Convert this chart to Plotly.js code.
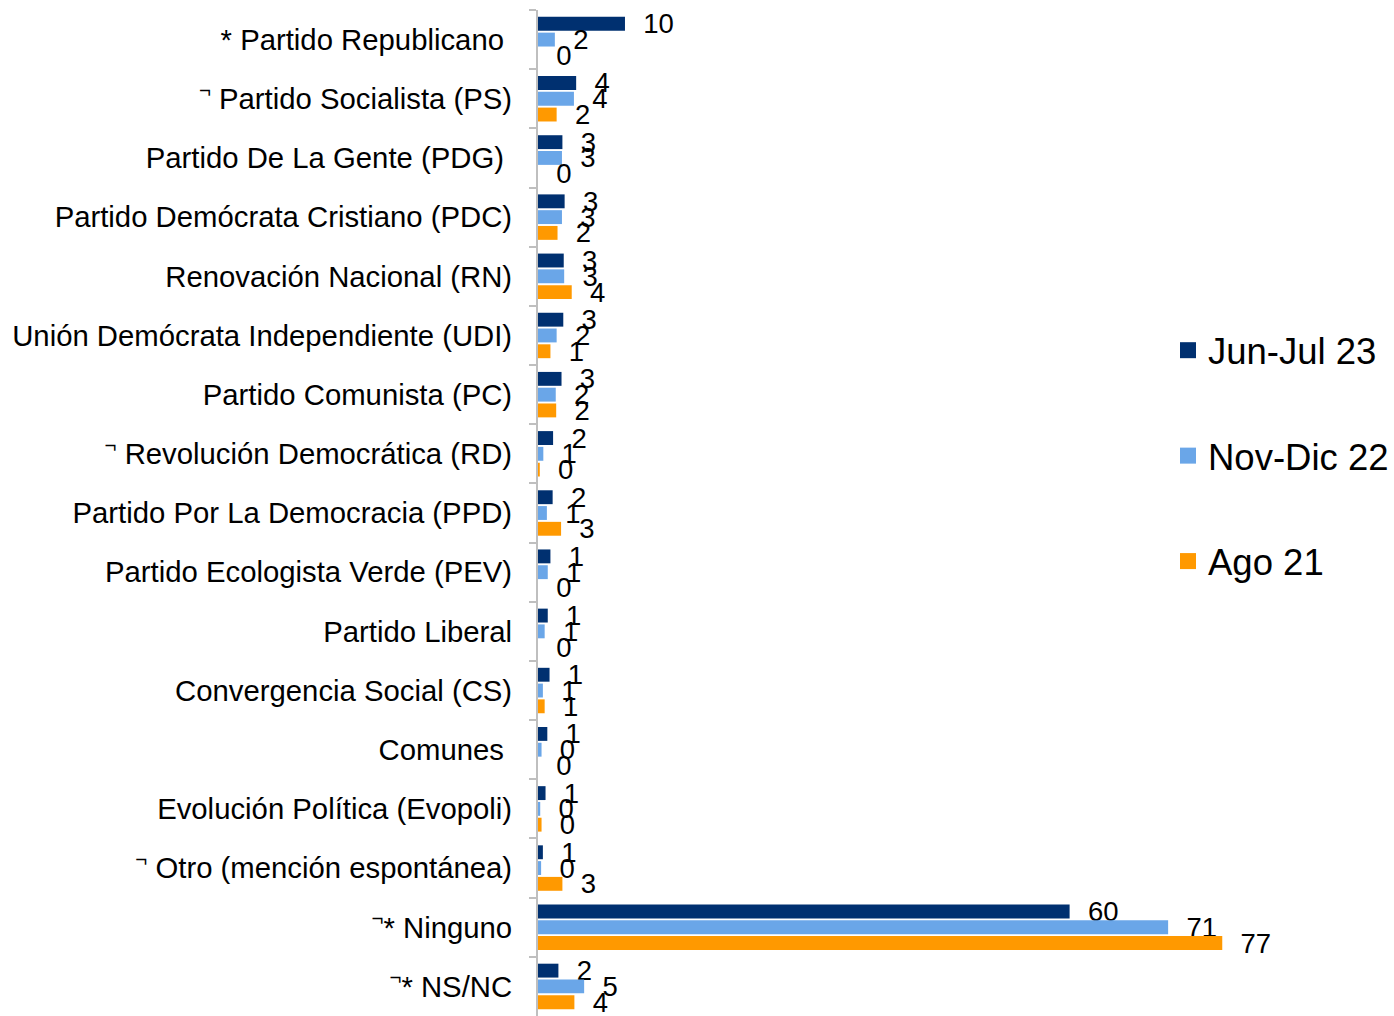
<!DOCTYPE html>
<html>
<head>
<meta charset="utf-8">
<script src="https://cdn.plot.ly/plotly-3.0.1.min.js"></script>
<style>html,body{margin:0;padding:0;background:#fff;}#chart{width:1394px;height:1016px;}</style>
</head>
<body>
<div id="chart"></div>
<script>
const categories = [
  "* Partido Republicano\u00a0",
  "<sup>\u00ac</sup> Partido Socialista (PS)",
  "Partido De La Gente (PDG)\u00a0",
  "Partido Demócrata Cristiano (PDC)",
  "Renovación Nacional (RN)",
  "Unión Demócrata Independiente (UDI)",
  "Partido Comunista (PC)",
  "<sup>\u00ac</sup> Revolución Democrática (RD)",
  "Partido Por La Democracia (PPD)",
  "Partido Ecologista Verde (PEV)",
  "Partido Liberal",
  "Convergencia Social (CS)",
  "Comunes\u00a0",
  "Evolución Política (Evopoli)",
  "<sup>\u00ac</sup> Otro (mención espontánea)",
  "<sup>\u00ac</sup>* Ninguno",
  "<sup>\u00ac</sup>* NS/NC"
];
const seriesNames = ["Jun-Jul 23", "Nov-Dic 22", "Ago 21"];
const junJul23 = [9.8, 4.3, 2.75, 3.0, 2.9, 2.85, 2.65, 1.7, 1.65, 1.4, 1.1, 1.3, 1.05, 0.85, 0.55, 59.9, 2.3];
const novDic22 = [1.9, 4.05, 2.7, 2.7, 2.95, 2.1, 2.0, 0.6, 1.0, 1.1, 0.75, 0.55, 0.4, 0.25, 0.35, 71.0, 5.2];
const ago21    = [0, 2.1, 0, 2.2, 3.8, 1.4, 2.05, 0.2, 2.6, 0, 0, 0.75, 0, 0.4, 2.75, 77.1, 4.1];
const colors = ["#003070", "#6AA6E8", "#FF9900"];

const FONT = "Liberation Sans, Arial, sans-serif";
const seriesVals = [junJul23, novDic22, ago21];
const traces = [];
seriesVals.forEach((vals, i) => {
  traces.push({
    type: "bar",
    orientation: "h",
    name: seriesNames[i],
    x: vals,
    y: categories,
    marker: {color: colors[i], line: {width: 0}},
    texttemplate: "\u00a0\u00a0%{x:.0f}",
    textposition: "outside",
    constraintext: "none",
    cliponaxis: false,
    textfont: {family: FONT, size: 27.5, color: "#000"},
    showlegend: false,
    hoverinfo: "x+y"
  });
});
seriesNames.forEach((n, i) => {
  traces.push({
    type: "scatter",
    mode: "markers",
    name: n,
    x: [null],
    y: [null],
    marker: {symbol: "square", size: 19, color: colors[i]},
    legendgroup: "g" + i,
    showlegend: true,
    hoverinfo: "skip"
  });
});

const layout = {
  width: 1394,
  height: 1016,
  margin: {l: 538, r: 144, t: 10, b: 0},
  paper_bgcolor: "#fff",
  plot_bgcolor: "#fff",
  barmode: "group",
  bargap: 0.2,
  bargroupgap: 0.12,
  showlegend: true,
  legend: {
    x: 0.8875, xanchor: "left",
    y: 0.5567, yanchor: "middle",
    font: {family: FONT, size: 36.5, color: "#000"},
    traceorder: "grouped",
    tracegroupgap: 55,
    bgcolor: "rgba(0,0,0,0)"
  },
  xaxis: {range: [0, 80], visible: false, fixedrange: true},
  yaxis: {
    type: "category",
    autorange: "reversed",
    showgrid: false,
    zeroline: false,
    showline: true,
    linecolor: "#BFBFBF",
    linewidth: 2,
    ticks: "outside",
    tickson: "boundaries",
    ticklen: 7,
    tickwidth: 2,
    tickcolor: "#BFBFBF",
    ticklabelstandoff: 18,
    tickfont: {family: FONT, size: 29.3, color: "#000"},
    fixedrange: true
  }
};
Plotly.newPlot("chart", traces, layout, {displayModeBar: false, staticPlot: true});
</script>
</body>
</html>
